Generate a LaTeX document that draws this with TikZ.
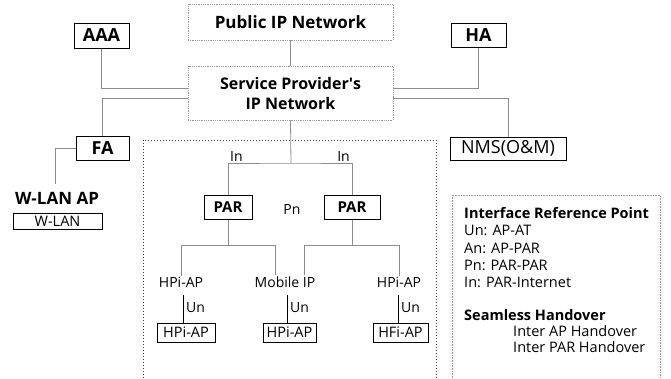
\documentclass[tikz,border=0pt]{standalone}
\usepackage{fontspec}
\setmainfont{Open Sans}
\begin{document}
\begin{tikzpicture}[x=1pt,y=-1pt,
  conn/.style={draw=black!45,line width=0.8pt},
  unline/.style={draw=black,line width=0.7pt},
  netbox/.style={draw=black!40,line width=0.8pt,densely dotted,font=\fontsize{16}{20}\selectfont\bfseries,align=center,inner sep=0pt},
  solidbox/.style={draw=black,line width=1pt,inner sep=0pt,font=\fontsize{18}{20}\selectfont\bfseries},
  thinbox/.style={draw=black,line width=0.8pt,inner sep=0pt,font=\fontsize{14.5}{16}\selectfont},
  lbl/.style={inner sep=1pt,font=\fontsize{14}{16}\selectfont},
  leg/.style={anchor=west,inner sep=0pt,font=\fontsize{14.5}{16}\selectfont},
  legb/.style={leg,font=\fontsize{14.5}{16}\selectfont\bfseries}]
\useasboundingbox (0,0) rectangle (671,378);
% network boxes
\node[netbox,font=\fontsize{17}{20}\selectfont\bfseries,minimum width=205pt,minimum height=36pt] (pub) at (290.5,22) {Public IP Network};
\node[netbox,minimum width=205pt,minimum height=54pt] (sp) at (290.5,93) {Service Provider\textquotesingle s\\IP Network};
% solid boxes
\node[solidbox,minimum width=55pt,minimum height=25pt] (aaa) at (101.5,35.5) {AAA};
\node[solidbox,minimum width=55pt,minimum height=24pt] (ha) at (478.5,35) {HA};
\node[solidbox,minimum width=53pt,minimum height=24pt] (fa) at (102.5,148) {FA};
\node[solidbox,font=\fontsize{18}{20}\selectfont,minimum width=116pt,minimum height=23pt] (nms) at (508,148.5) {NMS(O\&M)};
% W-LAN
\node[inner sep=0pt,font=\fontsize{17}{20}\selectfont\bfseries] (wlanap) at (57,198) {W-LAN AP};
\node[thinbox,minimum width=89pt,minimum height=16pt] (wlan) at (57.5,221) {W-LAN};
% connectors top
\draw[conn] (pub.south) -- (sp.north);
\draw[conn] (aaa.south) |- ([yshift=5pt]sp.west);
\draw[conn] ([yshift=-5pt]sp.west) -| (fa.north);
\draw[conn] (ha.south) |- ([yshift=5pt]sp.east);
\draw[conn] ([yshift=-5pt]sp.east) -| (nms.north);
\coordinate (wl) at (55,184);
\draw[conn] (fa.west) -| (wl);
% PAR region
\draw[black!75,line width=0.8pt,dash pattern=on 1.2pt off 1.8pt] (143,378) -- (143,140) -- (436,140) -- (436,378);
\node[solidbox,font=\fontsize{15}{18}\selectfont\bfseries,minimum width=48pt,minimum height=24pt] (parl) at (228,207) {PAR};
\node[solidbox,font=\fontsize{15}{18}\selectfont\bfseries,minimum width=56pt,minimum height=24pt] (parr) at (352,207) {PAR};
\node[lbl] (pn) at (292,209) {Pn};
\coordinate (br) at (291,163);
\draw[conn] (sp.south) -- (br);
\draw[conn] (parl.north) |- (br) -| (parr.north);
\node[lbl,anchor=south west] (inl) at (229,163) {In};
\node[lbl,anchor=south east] (inr) at (351,163) {In};
% lower labels
\node[lbl] (hl) at (181,282) {HPi-AP};
\node[lbl] (mob) at (285,282) {Mobile IP};
\node[lbl] (hr) at (399,282) {HPi-AP};
\coordinate (bl) at (228,245);
\coordinate (bm1) at (275,245);
\coordinate (bm2) at (304,245);
\coordinate (brr) at (352,245);
\draw[conn] (parl.south) -- (bl);
\draw[conn] (hl.north) |- (bm1) -- (bm1 |- mob.north);
\draw[conn] (parr.south) -- (brr);
\draw[conn] (bm2 |- mob.north) -- (bm2) -| (hr.north);
% bottom boxes
\node[thinbox,minimum width=58pt,minimum height=19pt] (apl) at (186,332.5) {HPi-AP};
\node[thinbox,minimum width=53pt,minimum height=19pt] (apm) at (289.5,332.5) {HPi-AP};
\node[thinbox,minimum width=55pt,minimum height=19pt] (apr) at (400.5,332.5) {HFi-AP};
\coordinate (ul) at (183,295);
\coordinate (um) at (287,295);
\coordinate (ur) at (398,295);
\draw[unline] (ul) -- (ul |- apl.north);
\draw[unline] (um) -- (um |- apm.north);
\draw[unline] (ur) -- (ur |- apr.north);
\node[lbl,anchor=west] (unl) at (185,308) {Un};
\node[lbl,anchor=west] (unm) at (289,308) {Un};
\node[lbl,anchor=west] (unr) at (400,308) {Un};
% legend
\draw[black!40,line width=0.6pt,densely dotted] (452,378) -- (452,195) -- (660,195) -- (660,378);
\node[legb] (l1) at (464,213) {Interface Reference Point};
\node[leg] (l2) at (464,230) {Un: AP-AT};
\node[leg] (l3) at (464,248) {An: AP-PAR};
\node[leg] (l4) at (464,265) {Pn: PAR-PAR};
\node[leg] (l5) at (464,282) {In: PAR-Internet};
\node[legb] (l6) at (464,315) {Seamless Handover};
\node[leg] (l7) at (513,331) {Inter AP Handover};
\node[leg] (l8) at (513,347) {Inter PAR Handover};
\end{tikzpicture}
\end{document}
